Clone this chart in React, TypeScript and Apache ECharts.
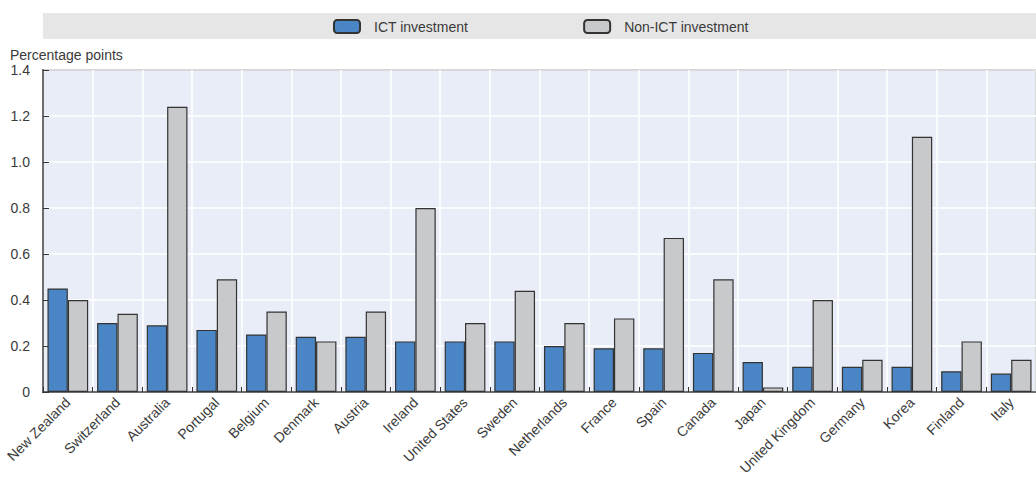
import React, { useEffect, useRef } from "react";
import * as echarts from "echarts";

const categories = [
  "New Zealand", "Switzerland", "Australia", "Portugal", "Belgium", "Denmark",
  "Austria", "Ireland", "United States", "Sweden", "Netherlands", "France",
  "Spain", "Canada", "Japan", "United Kingdom", "Germany", "Korea", "Finland", "Italy",
];
const ictValues = [
  0.45, 0.30, 0.29, 0.27, 0.25, 0.24, 0.24, 0.22, 0.22, 0.22, 0.20, 0.19,
  0.19, 0.17, 0.13, 0.11, 0.11, 0.11, 0.09, 0.08,
];
const nonIctValues = [
  0.40, 0.34, 1.24, 0.49, 0.35, 0.22, 0.35, 0.80, 0.30, 0.44, 0.30, 0.32,
  0.67, 0.49, 0.02, 0.40, 0.14, 1.11, 0.22, 0.14,
];
const seriesNames = ["ICT investment", "Non-ICT investment"];
const yAxisTitle = "Percentage points";

const FONT = "'Liberation Sans', Arial, sans-serif";
const TEXT = "#3a3a3a";

export default function App() {
  const ref = useRef<HTMLDivElement>(null);
  useEffect(() => {
    if (!ref.current) return;
    const chart = echarts.init(ref.current, undefined, { renderer: "svg" });
    chart.setOption({
      animation: false,
      graphic: [
        {
          type: "rect",
          z: -10,
          shape: { x: 43, y: 13, width: 1100, height: 26 },
          style: { fill: "#e6e6e6" },
        },
        {
          type: "text",
          x: 10,
          y: 55,
          style: {
            text: yAxisTitle,
            fontSize: 14,
            fontFamily: FONT,
            fill: TEXT,
            verticalAlign: "middle",
          },
        },
      ],
      legend: {
        left: 333,
        top: 19,
        padding: 0,
        itemWidth: 26,
        itemHeight: 13,
        itemGap: 115,
        data: seriesNames,
        textStyle: { fontSize: 14, fontFamily: FONT, color: TEXT, padding: [0, 0, 0, 9] },
      },
      grid: {
        left: 43,
        top: 70,
        bottom: 89,
        right: -12,
        show: true,
        backgroundColor: "#e9edf7",
        borderColor: "#666666",
        borderWidth: 2,
        containLabel: false,
      },
      xAxis: {
        type: "category",
        data: categories,
        boundaryGap: true,
        axisLine: { lineStyle: { color: "#4a4a4a", width: 1.5 } },
        axisTick: { show: true, inside: true, length: 5, lineStyle: { color: "#333" } },
        splitLine: { show: true, lineStyle: { color: "#ffffff", width: 1.5 } },
        axisLabel: {
          interval: 0,
          rotate: 45,
          margin: 8,
          fontSize: 14,
          fontFamily: FONT,
          color: TEXT,
        },
      },
      yAxis: {
        type: "value",
        min: 0,
        max: 1.4,
        interval: 0.2,
        axisLine: { show: true, lineStyle: { color: "#4a4a4a", width: 1.5 } },
        axisTick: { show: true, inside: true, length: 6, lineStyle: { color: "#333" } },
        splitLine: { show: true, lineStyle: { color: "#ffffff", width: 1.5 } },
        axisLabel: {
          margin: 13,
          fontSize: 14,
          fontFamily: FONT,
          color: TEXT,
          formatter: (v: number) => (v === 0 ? "0" : v.toFixed(1)),
        },
      },
      series: [
        {
          name: seriesNames[0],
          type: "bar",
          data: ictValues,
          barGap: "0%",
          barCategoryGap: "18%",
          itemStyle: { color: "#4a86c5", borderColor: "#333333", borderWidth: 1.2 },
        },
        {
          name: seriesNames[1],
          type: "bar",
          data: nonIctValues,
          barGap: "0%",
          barCategoryGap: "18%",
          itemStyle: { color: "#c8c9cb", borderColor: "#333333", borderWidth: 1.2 },
        },
      ],
    });
    return () => chart.dispose();
  }, []);
  return (
    <div
      ref={ref}
      style={{ position: "absolute", left: 0, top: 0, width: 1036, height: 481 }}
    />
  );
}
